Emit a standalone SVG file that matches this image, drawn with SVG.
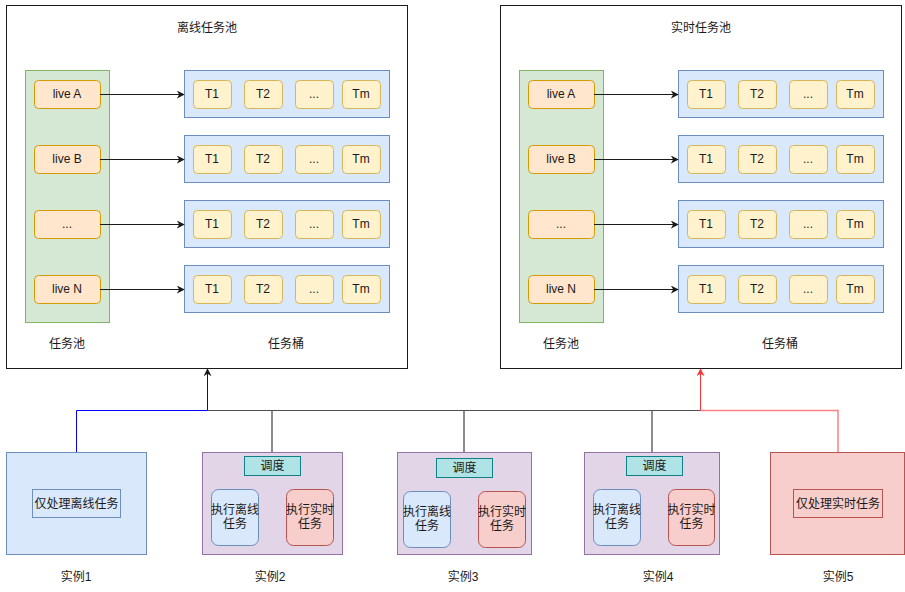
<svg xmlns="http://www.w3.org/2000/svg" width="905" height="592" viewBox="0 0 905 592">
<defs>
<style>
text{font-family:"Liberation Sans","Noto Sans CJK SC",sans-serif;font-size:12px;fill:#1a1a1a;text-anchor:middle;dominant-baseline:central}
.pool{fill:#fff;stroke:#1a1a1a;stroke-width:1}
.green{fill:#d5e8d4;stroke:#82b366}
.live{fill:#ffe6cc;stroke:#d79b00;stroke-width:1}
.bucket{fill:#dae8fc;stroke:#6c8ebf}
.task{fill:#fff2cc;stroke:#d6b656}
.blue{fill:#dae8fc;stroke:#6c8ebf}
.purple{fill:#e1d5e7;stroke:#9673a6}
.red{fill:#f8cecc;stroke:#b85450}
.sched{fill:#b0e3e6;stroke:#0e8088}
.arr{fill:none;stroke:#1a1a1a;stroke-width:1}
</style>
<marker id="ah" viewBox="0 0 10 10" refX="9" refY="5" markerWidth="8" markerHeight="8" orient="auto" markerUnits="userSpaceOnUse">
<path d="M0,0 L10,5 L0,10 L3,5 z" fill="#1a1a1a"/>
</marker>
<marker id="ahr" viewBox="0 0 10 10" refX="9" refY="5" markerWidth="8" markerHeight="8" orient="auto" markerUnits="userSpaceOnUse">
<path d="M0,0 L10,5 L0,10 L3,5 z" fill="#ff3333"/>
</marker>
<g id="poolContent">
<rect class="green" x="25.5" y="70.5" width="84" height="252"/>
<rect class="live" x="34.5" y="80.5" width="66" height="28" rx="4"/>
<text x="67" y="94">live A</text>
<rect class="live" x="34.5" y="145.5" width="66" height="28" rx="4"/>
<text x="67" y="159">live B</text>
<rect class="live" x="34.5" y="210.5" width="66" height="28" rx="4"/>
<text x="67" y="224">...</text>
<rect class="live" x="34.5" y="275.5" width="66" height="28" rx="4"/>
<text x="67" y="289">live N</text>
<g id="bk">
<rect class="bucket" x="184.5" y="70.5" width="205" height="47"/>
<rect class="task" x="193.5" y="80.5" width="38" height="28" rx="4"/>
<text x="212" y="94">T1</text>
<rect class="task" x="244.5" y="80.5" width="38" height="28" rx="4"/>
<text x="263" y="94">T2</text>
<rect class="task" x="295.5" y="80.5" width="38" height="28" rx="4"/>
<text x="314" y="94">...</text>
<rect class="task" x="342.5" y="80.5" width="38" height="28" rx="4"/>
<text x="361" y="94">Tm</text>
</g>
<use href="#bk" y="65"/>
<use href="#bk" y="130"/>
<use href="#bk" y="195"/>
<path class="arr" d="M100,94.5 H184" marker-end="url(#ah)"/>
<path class="arr" d="M100,159.5 H184" marker-end="url(#ah)"/>
<path class="arr" d="M100,224.5 H184" marker-end="url(#ah)"/>
<path class="arr" d="M100,289.5 H184" marker-end="url(#ah)"/>
<text x="67" y="344">任务池</text>
<text x="286" y="344">任务桶</text>
</g>
</defs>

<g id="offline-pool">
<rect class="pool" x="6.5" y="5.5" width="401" height="363"/>
<text x="207" y="28">离线任务池</text>
<use href="#poolContent"/>
</g>

<g id="realtime-pool">
<rect class="pool" x="500.5" y="5.5" width="401" height="363"/>
<text x="701" y="28">实时任务池</text>
<use href="#poolContent" x="494"/>
</g>

<g id="connectors">
<path d="M76.5,452 V410.5 H207.5" fill="none" stroke="#0000ff" stroke-width="1"/>
<path d="M207.5,410.5 H700.5" fill="none" stroke="#4d4d4d" stroke-width="1"/>
<path d="M272,452 V410.5" fill="none" stroke="#666" stroke-width="1.5"/>
<path d="M464,452 V410.5" fill="none" stroke="#666" stroke-width="1.5"/>
<path d="M652,452 V410.5" fill="none" stroke="#666" stroke-width="1.5"/>
<path d="M207.5,410.5 V369" class="arr" marker-end="url(#ah)"/>
<path d="M838,452 V410.5 H700.5" fill="none" stroke="#ff8080" stroke-width="1.5"/>
<path d="M700.5,410.5 V369" fill="none" stroke="#ff3333" stroke-width="1" marker-end="url(#ahr)"/>
</g>

<g id="instance1">
<rect class="blue" x="6.5" y="452.5" width="140" height="102"/>
<rect class="blue" x="32.5" y="489.5" width="88" height="28"/>
<text x="76.5" y="503.5">仅处理离线任务</text>
<text x="76" y="577">实例1</text>
</g>

<g id="instance2">
<rect class="purple" x="202.5" y="452.5" width="140" height="102"/>
<rect class="sched" x="244.5" y="456.5" width="56" height="19"/>
<text x="272.5" y="466">调度</text>
<rect class="blue" x="211.5" y="489.5" width="47" height="56" rx="7"/>
<text x="235" y="510">执行离线</text>
<text x="235" y="524">任务</text>
<rect class="red" x="286.5" y="489.5" width="47" height="56" rx="7"/>
<text x="310" y="510">执行实时</text>
<text x="310" y="524">任务</text>
<text x="270" y="577">实例2</text>
</g>

<g id="instance3">
<rect class="purple" x="397.5" y="452.5" width="134" height="102"/>
<rect class="sched" x="436.5" y="458.5" width="56" height="19"/>
<text x="464.5" y="468">调度</text>
<rect class="blue" x="403.5" y="491.5" width="47" height="56" rx="7"/>
<text x="427" y="512">执行离线</text>
<text x="427" y="526">任务</text>
<rect class="red" x="478.5" y="491.5" width="47" height="56" rx="7"/>
<text x="502" y="512">执行实时</text>
<text x="502" y="526">任务</text>
<text x="463" y="577">实例3</text>
</g>

<g id="instance4">
<rect class="purple" x="584.5" y="452.5" width="135" height="102"/>
<rect class="sched" x="626.5" y="456.5" width="56" height="19"/>
<text x="654.5" y="466">调度</text>
<rect class="blue" x="593.5" y="489.5" width="47" height="56" rx="7"/>
<text x="617" y="510">执行离线</text>
<text x="617" y="524">任务</text>
<rect class="red" x="668.5" y="489.5" width="46" height="56" rx="7"/>
<text x="691.5" y="510">执行实时</text>
<text x="691.5" y="524">任务</text>
<text x="658" y="577">实例4</text>
</g>

<g id="instance5">
<rect class="red" x="770.5" y="452.5" width="134" height="102"/>
<rect class="red" x="793.5" y="489.5" width="89" height="28"/>
<text x="838" y="503.5">仅处理实时任务</text>
<text x="838" y="577">实例5</text>
</g>
</svg>
